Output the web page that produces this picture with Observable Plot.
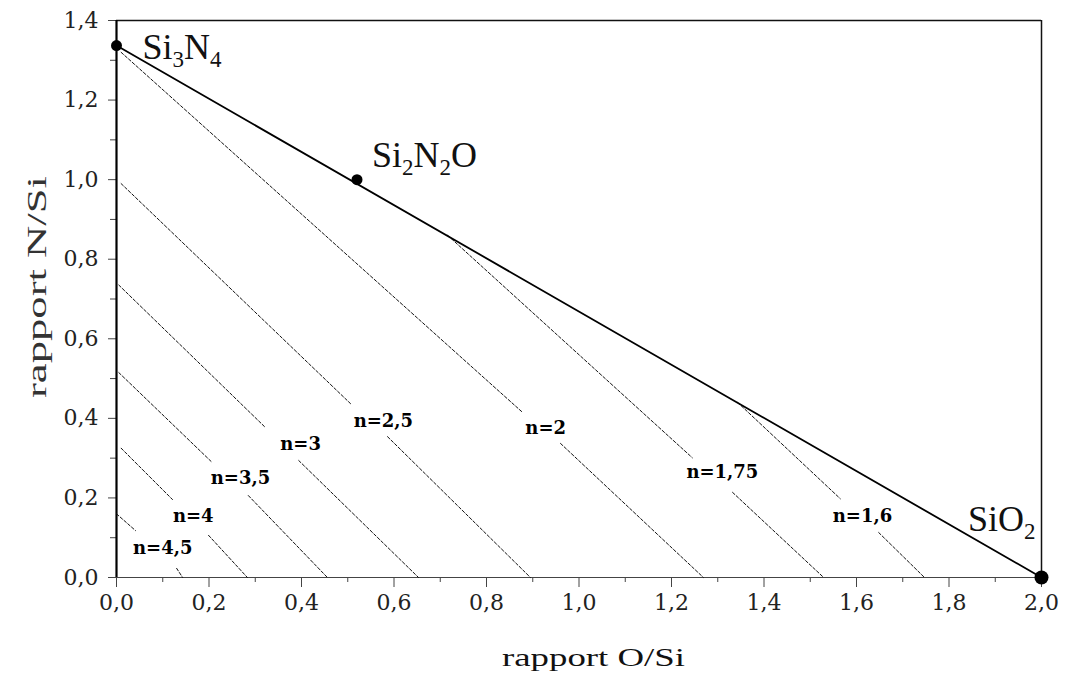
<!DOCTYPE html>
<html>
<head>
<meta charset="utf-8">
<script src="https://cdn.jsdelivr.net/npm/d3@7"></script>
<script src="https://cdn.jsdelivr.net/npm/@observablehq/plot@0.6"></script>
<style>
  html, body { margin: 0; padding: 0; background: #fff; }
  #chart { width: 1066px; height: 677px; }
</style>
</head>
<body>
<div id="chart"></div>
<script>
// ---- data ----
const xMajorTicks = [0, 0.2, 0.4, 0.6, 0.8, 1.0, 1.2, 1.4, 1.6, 1.8, 2.0];
const xMinorTicks = [0.1, 0.3, 0.5, 0.7, 0.9, 1.1, 1.3, 1.5, 1.7, 1.9];
const yMajorTicks = [0, 0.2, 0.4, 0.6, 0.8, 1.0, 1.2, 1.4];
const yMinorTicks = [0.1, 0.3, 0.5, 0.7, 0.9, 1.1, 1.3];

const xTitle = "rapport O/Si";
const yTitle = "rapport N/Si";

// compounds on the Si3N4 – SiO2 tie line
const compoundNames = ["Si3N4", "Si2N2O", "SiO2"];
const compoundOS = [0.0, 0.52, 2.0];
const compoundNS = [1.337, 1.0, 0.0];

// tie line end points
const tieOS = [0.0, 2.0];
const tieNS = [1.337, 0.0];

// iso-index lines: start, end of upper part, start of lower part, end on axis
const isoN      = ["4,5", "4", "3,5", "3", "2,5", "2", "1,75", "1,6"];
const isoStartX = [0.0,   0.01,  0.005, 0.005, 0.01,  0.01,  0.716, 1.343];
const isoStartY = [0.16,  0.325, 0.515, 0.735, 0.99,  1.32,  0.86,  0.44];
const isoGapAX  = [0.041, 0.121, 0.207, 0.322, 0.506, 0.878, 1.245, 1.565];
const isoGapAY  = [0.118, 0.196, 0.289, 0.377, 0.437, 0.415, 0.301, 0.198];
const isoGapBX  = [0.13,  0.199, 0.285, 0.394, 0.586, 0.96,  1.332, 1.648];
const isoGapBY  = [0.023, 0.106, 0.206, 0.294, 0.354, 0.337, 0.214, 0.113];
const isoEndX   = [0.143, 0.283, 0.456, 0.653, 0.895, 1.269, 1.529, 1.747];
const isoEndY   = [0, 0, 0, 0, 0, 0, 0, 0];
// label centres
const isoLabelX = [0.100, 0.166, 0.268, 0.398, 0.577, 0.928, 1.310, 1.613];
const isoLabelY = [0.073, 0.153, 0.249, 0.334, 0.394, 0.374, 0.264, 0.153];

// ---- tables built from the arrays ----
const compounds = compoundNames.map((name, i) => ({name, x: compoundOS[i], y: compoundNS[i]}));
const tie = tieOS.map((x, i) => ({x, y: tieNS[i]}));
const isoSegments = [];
isoN.forEach((n, i) => {
  isoSegments.push({seg: n + "a", x: isoStartX[i], y: isoStartY[i]});
  isoSegments.push({seg: n + "a", x: isoGapAX[i], y: isoGapAY[i]});
  isoSegments.push({seg: n + "b", x: isoGapBX[i], y: isoGapBY[i]});
  isoSegments.push({seg: n + "b", x: isoEndX[i], y: isoEndY[i]});
});
const isoLabels = isoN.map((n, i) => ({label: "n=" + n, x: isoLabelX[i], y: isoLabelY[i]}));

const fmt = d => d.toFixed(1).replace(".", ",");
const FONT = "DejaVu Serif";
const TITLE_FONT = "Liberation Serif";
const ML = 116, MR = 25, MT = 20, MB = 100, W = 1066, H = 677;

const chart = Plot.plot({
  width: W,
  height: H,
  marginLeft: ML,
  marginRight: MR,
  marginTop: MT,
  marginBottom: MB,
  style: {fontFamily: FONT, background: "#fff", color: "#111"},
  x: {domain: [0, 2], label: null},
  y: {domain: [0, 1.4], label: null},
  marks: [
    Plot.axisX({ticks: xMajorTicks, tickSize: 10, tickPadding: 7, tickFormat: fmt, label: null, stroke: "#444"}),
    Plot.axisX({ticks: xMinorTicks, tickSize: 5, tickFormat: () => "", label: null, stroke: "#444"}),
    Plot.axisY({ticks: yMajorTicks, tickSize: 8, tickPadding: 10, tickFormat: fmt, label: null, stroke: "#444"}),
    Plot.axisY({ticks: yMinorTicks, tickSize: 6, tickFormat: () => "", label: null, stroke: "#444"}),
    Plot.ruleY([0], {stroke: "#444", strokeWidth: 1.2}),
    Plot.ruleY([1.4], {stroke: "#111", strokeWidth: 1.5}),
    Plot.ruleX([0], {stroke: "#000", strokeWidth: 2.2}),
    Plot.ruleX([2], {stroke: "#111", strokeWidth: 1.5}),
    Plot.line(isoSegments, {x: "x", y: "y", z: "seg", stroke: "#111", strokeWidth: 1, strokeDasharray: "3,2"}),
    Plot.line(tie, {x: "x", y: "y", stroke: "#000", strokeWidth: 1.8}),
    Plot.dot(compounds.filter(d => d.name !== "SiO2"), {x: "x", y: "y", r: 5.5, fill: "#000", stroke: "none"}),
    Plot.dot(compounds.filter(d => d.name === "SiO2"), {x: "x", y: "y", r: 7, fill: "#000", stroke: "none"}),
    Plot.text(isoLabels, {x: "x", y: "y", text: "label", fontSize: 18, fontWeight: "bold", fill: "#000"}),
    Plot.text(compounds.filter(d => d.name === "Si3N4"), {x: "x", y: "y", text: "name", textAnchor: "start", dx: 26, dy: 2, fontSize: 36, fontFamily: TITLE_FONT, fill: "#111"}),
    Plot.text(compounds.filter(d => d.name === "Si2N2O"), {x: "x", y: "y", text: "name", textAnchor: "start", dx: 15, dy: -24, fontSize: 36, fontFamily: TITLE_FONT, fill: "#111"}),
    Plot.text(compounds.filter(d => d.name === "SiO2"), {x: "x", y: "y", text: "name", textAnchor: "end", dx: -6, dy: -58, fontSize: 36, fontFamily: TITLE_FONT, fill: "#111"})
  ]
});

document.getElementById("chart").appendChild(chart);

const svg = d3.select(chart);

// larger tick labels (comma decimals)
svg.selectAll("text").filter(function () { return /^\d,\d$/.test(this.textContent); })
  .attr("font-size", 22).style("font-size", "22px").attr("fill", "#222");

// subscripts for chemical formulas
svg.selectAll("text").each(function () {
  const t = this.textContent;
  if (!compoundNames.includes(t)) return;
  const el = d3.select(this);
  el.text(null);
  const parts = t.match(/\d+|\D+/g);
  let lowered = false;
  parts.forEach(p => {
    const span = el.append("tspan").text(p);
    if (/\d/.test(p)) {
      span.attr("font-size", "23").attr("dy", lowered ? null : 8);
      lowered = true;
    } else if (lowered) {
      span.attr("dy", -8);
      lowered = false;
    }
  });
});

// axis titles
svg.append("text")
  .attr("font-family", TITLE_FONT).attr("font-size", 26).attr("fill", "#111")
  .attr("text-anchor", "start")
  .attr("x", 502).attr("y", H - 11)
  .attr("textLength", 183).attr("lengthAdjust", "spacingAndGlyphs")
  .text(xTitle);
svg.append("text")
  .attr("font-family", TITLE_FONT).attr("font-size", 27).attr("fill", "#333")
  .attr("text-anchor", "start")
  .attr("transform", `translate(${ML - 70},398) rotate(-90)`)
  .attr("textLength", 222).attr("lengthAdjust", "spacingAndGlyphs")
  .text(yTitle);
</script>
</body>
</html>
